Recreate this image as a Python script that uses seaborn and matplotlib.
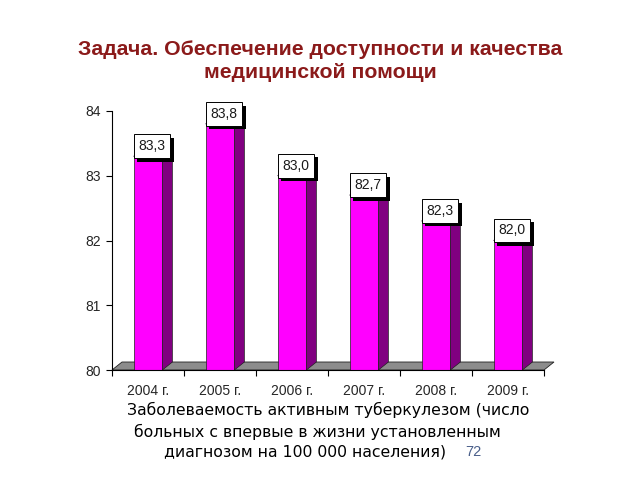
import matplotlib
matplotlib.use('Agg')

import seaborn as sns
import numpy
import matplotlib.pyplot as plt
import pandas
from matplotlib.patches import Polygon
from matplotlib.transforms import IdentityTransform
from matplotlib import patheffects

years = ['2004 г.', '2005 г.', '2006 г.', '2007 г.', '2008 г.', '2009 г.']
values = [83.3, 83.8, 83.0, 82.7, 82.3, 82.0]
y_ticks = [80, 81, 82, 83, 84]

title = 'Задача. Обеспечение доступности и качества\nмедицинской помощи'
caption = ['Заболеваемость активным туберкулезом (число',
           'больных с впервые в жизни установленным',
           'диагнозом на 100 000 населения)']
page_number = '72'

DX, DY = 10, 8  # depth of the 3d effect, pixels

sns.set_theme(style='white')
plt.rcParams['font.family'] = ['Liberation Sans', 'DejaVu Sans']

data = pandas.DataFrame({'year': years, 'value': values})

fig = plt.figure(figsize=(6.4, 4.8), dpi=100)
ax = fig.add_axes([112 / 640, 110 / 480, 432 / 640, 259 / 480])

sns.barplot(data=data, x='year', y='value', color='#FF00FF', width=0.4,
            saturation=1, edgecolor='#202020', linewidth=0.5, ax=ax, zorder=3)

ax.set_ylim(y_ticks[0], y_ticks[-1])
ax.set_xlim(-0.5, len(years) - 0.5)
ax.set_yticks(y_ticks)
ax.set_yticklabels([str(t) for t in y_ticks])
ax.set_xlabel('')
ax.set_ylabel('')

# category boundaries as ticks, labels on minor ticks
ax.set_xticks(numpy.arange(len(years) + 1) - 0.5)
ax.set_xticklabels([])
ax.set_xticks(numpy.arange(len(years)), minor=True)
ax.set_xticklabels(years, minor=True)
ax.tick_params(axis='x', which='major', direction='out', length=4, width=0.8, color='black', bottom=True)
ax.tick_params(axis='x', which='minor', length=0, labelsize=10, pad=10)
ax.tick_params(axis='y', direction='out', length=4, width=0.8, color='black', left=True, labelsize=10, pad=4)

for side in ['top', 'right']:
    ax.spines[side].set_visible(False)
for side in ['left', 'bottom']:
    ax.spines[side].set_color('black')
    ax.spines[side].set_linewidth(0.8)
ax.spines['bottom'].set_zorder(6)

fig.canvas.draw()
to_px = ax.transData.transform
ident = IdentityTransform()
y0 = ax.get_ylim()[0]

# floor
fl = to_px([(ax.get_xlim()[0], y0), (ax.get_xlim()[1], y0)])
floor = numpy.array([fl[0], fl[1], fl[1] + (DX, DY), fl[0] + (DX, DY)])
ax.add_patch(Polygon(floor, closed=True, transform=ident, facecolor='#8C8C8C',
                     edgecolor='#202020', linewidth=0.6, zorder=1, clip_on=False))

for bar in ax.patches[:len(values)]:
    x0 = bar.get_x()
    x1 = x0 + bar.get_width()
    top = bar.get_height()
    p = to_px([(x0, y0), (x1, y0), (x1, top), (x0, top)])
    side = numpy.array([p[1], p[1] + (DX, DY), p[2] + (DX, DY), p[2]])
    cap = numpy.array([p[3], p[2], p[2] + (DX, DY), p[3] + (DX, DY)])
    ax.add_patch(Polygon(side, closed=True, transform=ident, facecolor='#800080',
                         edgecolor='#202020', linewidth=0.5, zorder=4, clip_on=False))
    ax.add_patch(Polygon(cap, closed=True, transform=ident, facecolor='#D000D0',
                         edgecolor='#202020', linewidth=0.5, zorder=4, clip_on=False))

for i, v in enumerate(values):
    t = ax.annotate(f'{v:.1f}'.replace('.', ','), xy=(i, v), xytext=(4, 10),
                    textcoords='offset pixels', ha='center', va='center',
                    fontsize=10, color='#1A1A1A', zorder=8,
                    bbox=dict(boxstyle='square,pad=0.35', fc='white', ec='black', lw=0.7))
    t.get_bbox_patch().set_path_effects([
        patheffects.SimplePatchShadow(offset=(2.5, -2.5), shadow_rgbFace='black', alpha=1),
        patheffects.Normal()])

fig.text(0.5, 1 - 61 / 480, title, ha='center', va='center', fontsize=15.3,
         fontweight='bold', color='#8B1A1A', linespacing=1.3)

caption_x = [328, 317, 305]
caption_y = [410, 432, 452]
for line, cx, cy in zip(caption, caption_x, caption_y):
    fig.text(cx / 640, 1 - cy / 480, line, ha='center', va='center', fontsize=11.3,
             family='DejaVu Sans', color='black')
fig.text(473 / 640, 1 - 452 / 480, page_number, ha='center', va='center',
         fontsize=10.5, color='#4A5F8A')

fig.savefig('out.png', dpi=100)
